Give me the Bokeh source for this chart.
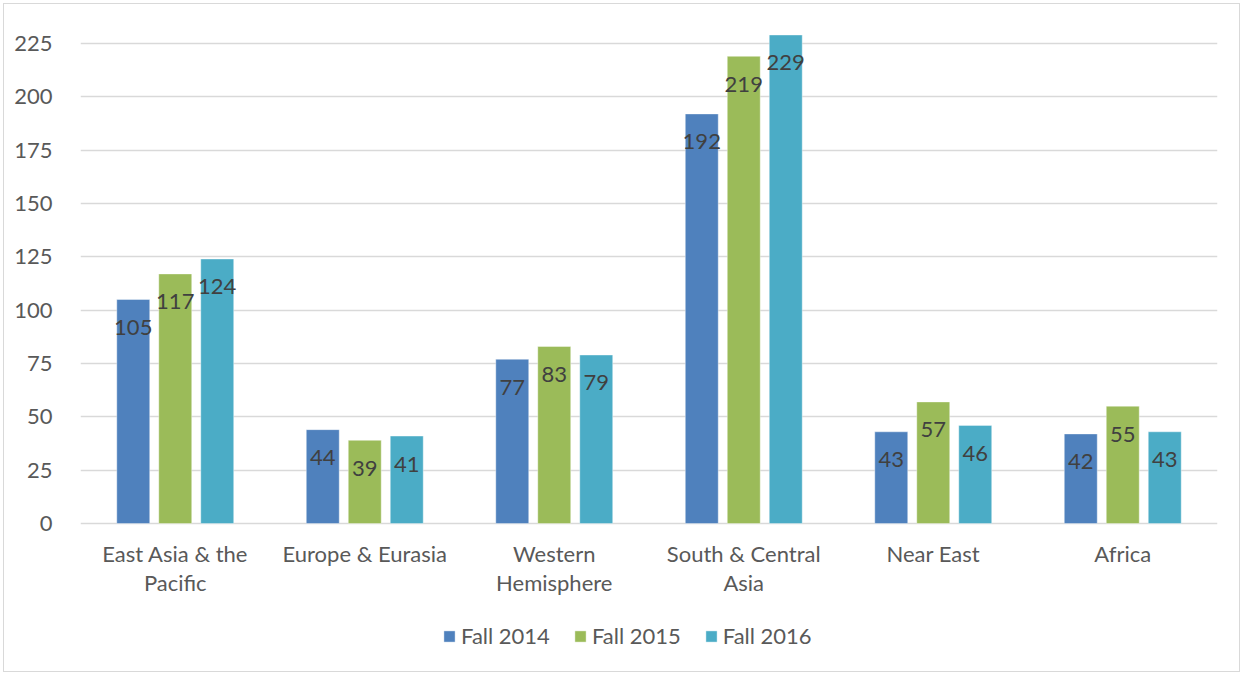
from bokeh.plotting import figure
from bokeh.models import FactorRange, Range1d, FixedTicker, ColumnDataSource, LabelSet, Legend, LegendItem
from bokeh.transform import dodge
from bokeh.core.properties import value
from bokeh.embed import file_html
from bokeh.resources import INLINE

categories = ["East Asia & the\nPacific", "Europe & Eurasia", "Western\nHemisphere",
              "South & Central\nAsia", "Near East", "Africa"]
series_names = ["Fall 2014", "Fall 2015", "Fall 2016"]
fall_2014 = [105, 44, 77, 192, 43, 42]
fall_2015 = [117, 39, 83, 219, 57, 55]
fall_2016 = [124, 41, 79, 229, 46, 43]
y_ticks = [0, 25, 50, 75, 100, 125, 150, 175, 200, 225]

colors = ["#4F81BD", "#9BBB59", "#4BACC6"]
offsets = [-0.2216, 0.0, 0.2216]
FONT = "Lato"
FS = "22px"

line1 = [c.split("\n")[0] for c in categories]
line2 = [c.split("\n")[1] if "\n" in c else "" for c in categories]

src = ColumnDataSource(data=dict(cat=categories, s0=fall_2014, s1=fall_2015, s2=fall_2016,
                                  t0=[str(v) for v in fall_2014],
                                  t1=[str(v) for v in fall_2015],
                                  t2=[str(v) for v in fall_2016],
                                  l1=line1, l2=line2,
                                  base=[0] * len(categories)))

p = figure(width=1237, height=669, x_range=FactorRange(*categories),
           y_range=Range1d(-70.3, 238.6), output_backend="svg", toolbar_location=None,
           min_border_left=76, min_border_right=24, min_border_top=10, min_border_bottom=0)
p.margin = (3, 3, 3, 3)
p.styles = {"border": "1px solid #D9D9D9"}
p.outline_line_color = None
p.background_fill_color = "white"
p.border_fill_color = "white"

items = []
for i, (name, col, off) in enumerate(zip(series_names, colors, offsets)):
    r = p.vbar(x=dodge("cat", off, range=p.x_range), top=f"s{i}", bottom="base", width=0.174,
               source=src, fill_color=col, line_color="#FFFFFF", line_alpha=0.4, line_width=1)
    items.append(LegendItem(label=name, renderers=[r]))
    labels = LabelSet(x=dodge("cat", off, range=p.x_range), y=f"s{i}", text=f"t{i}",
                      source=src, y_offset=-28, text_align="center", text_baseline="middle",
                      text_font=value(FONT), text_font_size=FS, text_color="#404040")
    p.add_layout(labels)

# category labels below the zero line (two centred lines)
for col_name, off in (("l1", -30), ("l2", -59)):
    cl = LabelSet(x="cat", y="base", text=col_name, source=src, y_offset=off,
                  text_align="center", text_baseline="middle",
                  text_font=value(FONT), text_font_size=FS, text_color="#595959")
    p.add_layout(cl)

p.xaxis.visible = False
p.xgrid.grid_line_color = None
p.ygrid.grid_line_color = "#D9D9D9"
p.ygrid.grid_line_width = 1.3
p.yaxis.ticker = FixedTicker(ticks=y_ticks)
p.yaxis.axis_line_color = None
p.yaxis.major_tick_line_color = None
p.yaxis.minor_tick_line_color = None
p.yaxis.major_label_text_font = FONT
p.yaxis.major_label_text_font_size = FS
p.yaxis.major_label_text_color = "#595959"
p.yaxis.major_label_standoff = 22

lg = Legend(items=items, orientation="horizontal", location=(362, 24))
lg.background_fill_alpha = 0
lg.border_line_color = None
lg.label_text_font = FONT
lg.label_text_font_size = FS
lg.label_text_color = "#595959"
lg.glyph_width = 14
lg.glyph_height = 14
lg.label_standoff = 5
lg.spacing = 23
lg.padding = 0
lg.margin = 0
p.add_layout(lg, "center")

open("out.html", "w").write(file_html(p, INLINE))
